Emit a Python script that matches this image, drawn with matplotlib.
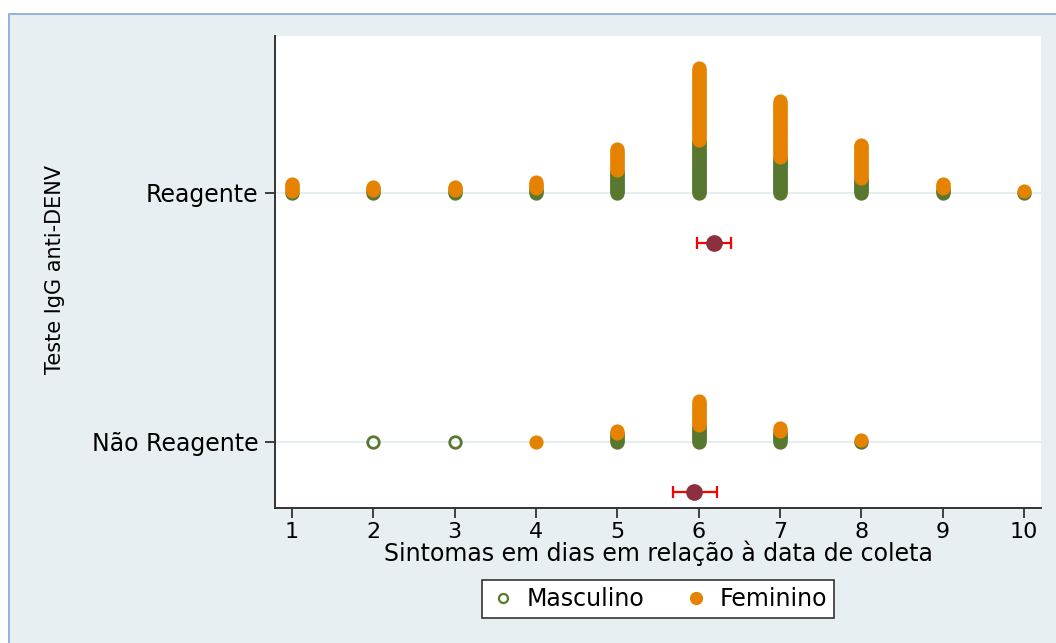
import numpy as np
import matplotlib
matplotlib.use("Agg")
from matplotlib import pyplot as plt
from matplotlib.patches import Rectangle
from matplotlib.lines import Line2D

# dias de sintomas
dias = [1, 2, 3, 4, 5, 6, 7, 8, 9, 10]
grupos = ["Não Reagente", "Reagente"]

# contagens por dia
reag_masc = [1, 2, 2, 3, 15, 35, 24, 10, 3, 1]
reag_fem = [6, 3, 3, 5, 15, 49, 38, 23, 4, 1]
nreag_masc = [0, 1, 1, 0, 6, 11, 7, 1, 0, 0]
nreag_fem = [0, 0, 0, 1, 2, 17, 3, 1, 0, 0]

# media e IC95%
medias = [5.94, 6.19]
ic_inf = [5.68, 5.98]
ic_sup = [6.22, 6.40]

verde = "#587830"
laranja = "#E58200"
fundo = "#E8EFF2"

fig = plt.figure(figsize=(10.56, 6.43), dpi=100)
fig.patch.set_facecolor("white")
fig.patches.append(Rectangle((9/1056, -0.1), 1.2, 1 - 14/643 + 0.1, transform=fig.transFigure,
                             facecolor=fundo, edgecolor="#7FA7DC", lw=1.2, zorder=-10))

ax = fig.add_axes([275/1056, 1 - 508/643, (1041 - 275)/1056, (508 - 36)/643])
ax.set_facecolor("white")

passo = 1.5/249  # deslocamento vertical de cada ponto empilhado

for k, (masc, fem) in enumerate([(nreag_masc, nreag_fem), (reag_masc, reag_fem)]):
    ax.axhline(k, color="#E6EEEF", lw=1.5, zorder=0)
    for i, d in enumerate(dias):
        ym = k + passo*np.arange(masc[i])
        yf = k + passo*(masc[i] + np.arange(fem[i]))
        ax.plot([d]*len(ym), ym, "o", ms=8.3, mfc="none", mec=verde, mew=2.0, zorder=2)
        ax.plot([d]*len(yf), yf, "o", ms=10.2, mfc=laranja, mec="none", zorder=3)

    ax.errorbar(medias[k], k - 0.2,
                xerr=[[medias[k] - ic_inf[k]], [ic_sup[k] - medias[k]]],
                fmt="o", ms=11, mfc="#8C2F3E", mec="#8C2F3E",
                ecolor="#FF0000", elinewidth=1.6, capsize=4.5, capthick=1.6, zorder=5)

ax.set_xlim(1 + (275 - 292)/81.33, 1 + (1041 - 292)/81.33)
ax.set_ylim(-(508 - 442)/249, (442 - 36)/249)

ax.set_xticks(dias)
ax.set_yticks([0, 1])
ax.set_yticklabels(grupos)
ax.tick_params(axis="y", labelsize=17, length=7, width=1.2, pad=5, colors="#222222")
ax.tick_params(axis="x", labelsize=16, length=7, width=1.2, pad=3, colors="#222222")
ax.tick_params(labelcolor="black")

for s in ["top", "right"]:
    ax.spines[s].set_visible(False)
for s in ["left", "bottom"]:
    ax.spines[s].set_color("#333333")
    ax.spines[s].set_linewidth(1.4)

ax.set_xlabel("Sintomas em dias em relação à data de coleta", fontsize=17)
ax.xaxis.label.set_va("center")
ax.xaxis.set_label_coords(0.5007, -(553 - 508)/472)
ax.set_ylabel("Teste IgG anti-DENV", fontsize=15)
ax.yaxis.label.set_va("center")
ax.yaxis.set_label_coords((55 - 275)/766, (508 - 270)/472)

h = [Line2D([], [], ls="none", marker="o", ms=6.5, mfc="none", mec=verde, mew=1.6),
     Line2D([], [], ls="none", marker="o", ms=9.5, mfc=laranja, mec="none")]
leg = fig.legend(h, ["Masculino", "Feminino"], loc="center", ncol=2,
                 bbox_to_anchor=(658/1056, 1 - 599/643), fontsize=17,
                 frameon=True, fancybox=False, edgecolor="#333333", framealpha=1,
                 handletextpad=0.4, columnspacing=1.6, borderpad=0.3, handlelength=1.2)
leg.get_frame().set_facecolor("white")
leg.get_frame().set_linewidth(1.2)

fig.savefig("out.png", dpi=100, facecolor=fig.get_facecolor())
